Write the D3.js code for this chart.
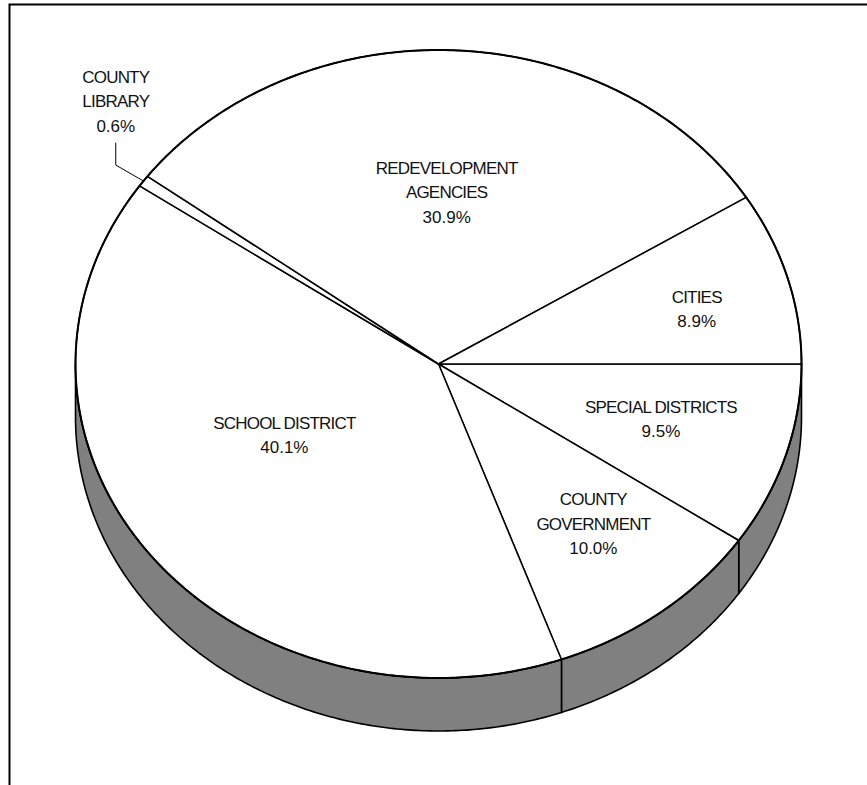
<!DOCTYPE html>
<html>
<head>
<meta charset="utf-8">
<script src="https://cdn.jsdelivr.net/npm/d3@7"></script>
<style>
  html, body { margin: 0; padding: 0; background: #fff; }
  svg { display: block; }
  text { font-family: "Liberation Sans", Arial, sans-serif; fill: #111; }
</style>
</head>
<body>
<div id="chart"></div>
<script>
// Share of property tax by agency, clockwise from 3 o'clock
const categories = ["SPECIAL DISTRICTS", "COUNTY GOVERNMENT", "SCHOOL DISTRICT",
                    "COUNTY LIBRARY", "REDEVELOPMENT AGENCIES", "CITIES"];
const labelLines = [["SPECIAL DISTRICTS"], ["COUNTY", "GOVERNMENT"], ["SCHOOL DISTRICT"],
                    ["COUNTY", "LIBRARY"], ["REDEVELOPMENT", "AGENCIES"], ["CITIES"]];
const values = [9.5, 10.0, 40.1, 0.6, 30.9, 8.9];

// label placement as fraction of the radii along each slice's mid angle
const labelFrac = [[0.641, 0.596], [0.696, 0.644], [0.536, 0.371],
                   [1.094, 1.436], [0.55, 0.547], [0.740, 0.637]];

const W = 867, H = 785;
const cx = 438.5, cy = 364, rx = 363, ry = 314, depth = 53;

const svg = d3.select("#chart").append("svg")
    .attr("width", W)
    .attr("height", H);

// outer frame (right and bottom edges fall outside the window)
svg.append("rect")
    .attr("x", 9.5).attr("y", 4.5)
    .attr("width", 900).attr("height", 900)
    .attr("fill", "none")
    .attr("stroke", "#000")
    .attr("stroke-width", 2);

const data = categories.map((c, i) => ({ name: c, lines: labelLines[i], value: values[i], frac: labelFrac[i] }));

// start at 3 o'clock, go clockwise
const pie = d3.pie()
    .sort(null)
    .value(d => d.value)
    .startAngle(Math.PI / 2)
    .endAngle(Math.PI / 2 + 2 * Math.PI);

const arcs = pie(data);

// d3 angle -> point on the tilted ellipse
const pt = (a, dy = 0) => [cx + rx * Math.sin(a), cy - ry * Math.cos(a) + dy];

function arcPoints(a0, a1, dy) {
    const n = Math.max(2, Math.ceil(Math.abs(a1 - a0) / 0.01));
    return d3.range(n + 1).map(i => pt(a0 + (a1 - a0) * i / n, dy));
}

const line = d3.line();

// side wall: only the front half (angles pi/2 .. 3pi/2) is visible
const frontA0 = Math.PI / 2, frontA1 = 3 * Math.PI / 2;
const walls = arcs.map(d => {
    const a0 = Math.max(d.startAngle, frontA0), a1 = Math.min(d.endAngle, frontA1);
    return a1 > a0 ? { a0, a1 } : null;
}).filter(d => d);

svg.append("g").selectAll("path")
    .data(walls)
    .join("path")
    .attr("d", d => line(arcPoints(d.a0, d.a1, 0).concat(arcPoints(d.a1, d.a0, depth))) + "Z")
    .attr("fill", "#808080")
    .attr("stroke", "#000")
    .attr("stroke-width", 1.6)
    .attr("stroke-linejoin", "round");

// top faces
svg.append("g").selectAll("path")
    .data(arcs)
    .join("path")
    .attr("d", d => line([[cx, cy]].concat(arcPoints(d.startAngle, d.endAngle, 0))) + "Z")
    .attr("fill", "#fff")
    .attr("stroke", "#000")
    .attr("stroke-width", 1.5)
    .attr("stroke-linejoin", "round");

// rim outline
svg.append("path")
    .attr("d", line(arcPoints(0, 2 * Math.PI, 0)) + "Z")
    .attr("fill", "none")
    .attr("stroke", "#000")
    .attr("stroke-width", 2);

// labels
const lineH = 24.5;
const labels = svg.append("g").selectAll("g")
    .data(arcs)
    .join("g")
    .each(function(d) {
        const mid = (d.startAngle + d.endAngle) / 2;
        const lx = cx + rx * Math.sin(mid) * d.data.frac[0];
        const ly = cy - ry * Math.cos(mid) * d.data.frac[1];
        const rows = d.data.lines.concat([d3.format(".1f")(d.data.value) + "%"]);
        const n = rows.length;
        const g = d3.select(this);
        rows.forEach((r, i) => {
            g.append("text")
                .attr("x", lx)
                .attr("y", ly + (i - (n - 1) / 2) * lineH + 6)
                .attr("text-anchor", "middle")
                .attr("font-size", "17px")
                .attr("letter-spacing", i < n - 1 ? "-0.8px" : "0px")
                .text(r);
        });
        // leader line for labels placed outside the pie
        if (d.data.frac[0] > 1) {
            const edge = pt(mid, 0);
            const lastBase = ly + ((n - 1) / 2) * lineH + 6;
            svg.append("polyline")
                .attr("points", [[lx, lastBase + 11], [lx, edge[1] - 16], edge].map(p => p.join(",")).join(" "))
                .attr("fill", "none")
                .attr("stroke", "#000")
                .attr("stroke-width", 1);
        }
    });
</script>
</body>
</html>
